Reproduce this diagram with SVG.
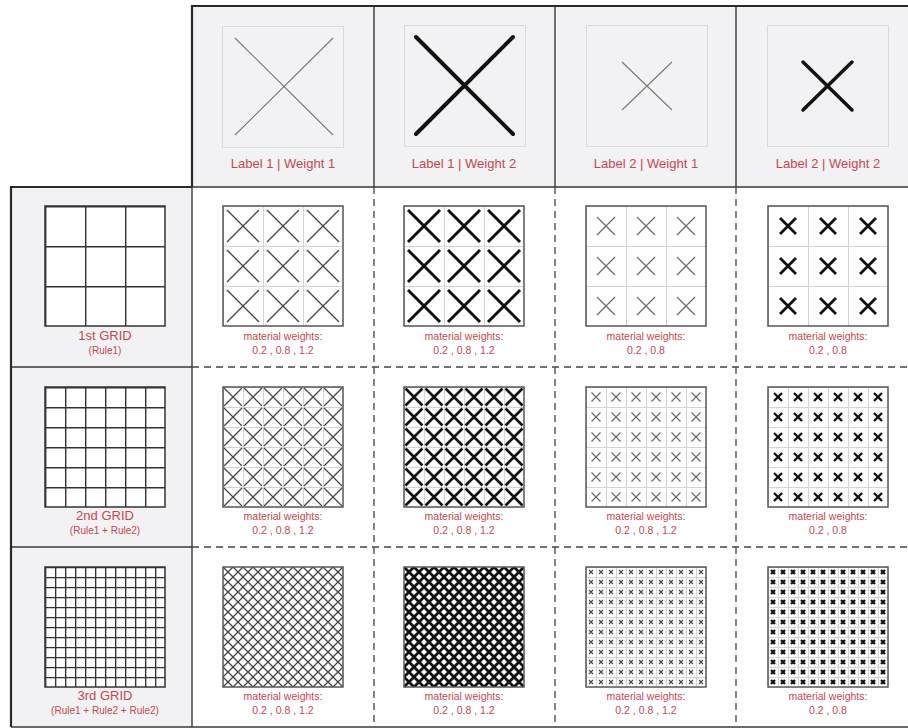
<svg xmlns="http://www.w3.org/2000/svg" width="908" height="728" viewBox="0 0 908 728">
<style>
.bg{fill:#f2f2f4}
.ibox{fill:#f2f2f4;stroke:#d9d9dc;stroke-width:1}
.lbl{font-family:"Liberation Sans",Arial,sans-serif;fill:#c4474f;text-anchor:middle}
.hl{font-size:13px}
.t1{font-size:13px}
.t2{font-size:10px}
.mw{font-size:10.5px}
.solid{stroke:#3a3a3a;stroke-width:1.4;fill:none}
.thick{stroke:#2a2a2a;stroke-width:2.2;fill:none}
.dash{stroke:#444;stroke-width:1.3;fill:none;stroke-dasharray:7 5}
.box{stroke:#555;stroke-width:1.5}
.gbox{stroke:#333;stroke-width:1.5}
.lg{stroke:#d4d4d4;stroke-width:1;fill:none}
.gl{stroke:#333;stroke-width:1.4;fill:none}
.xa{stroke:#444;fill:none}
.xb{stroke:#111;fill:none}
</style>
<defs>
<pattern id="g1" patternUnits="userSpaceOnUse" width="40" height="40"><rect width="40" height="40" fill="#fff"/><path class="gl" d="M0.7 0V40M0 0.7H40"/></pattern>
<pattern id="g2" patternUnits="userSpaceOnUse" width="20" height="20"><rect width="20" height="20" fill="#fff"/><path class="gl" d="M0.7 0V20M0 0.7H20"/></pattern>
<pattern id="g3" patternUnits="userSpaceOnUse" width="10" height="10"><rect width="10" height="10" fill="#fff"/><path class="gl" d="M0.65 0V10M0 0.65H10" stroke-width="1.3"/></pattern>
<pattern id="p1a" patternUnits="userSpaceOnUse" width="40" height="40"><rect width="40" height="40" fill="#fff"/><path class="lg" d="M0.5 0V40M0 0.5H40"/><path class="xa" stroke-width="1.3" d="M4 4L36 36M36 4L4 36"/></pattern>
<pattern id="p1b" patternUnits="userSpaceOnUse" width="40" height="40"><rect width="40" height="40" fill="#fff"/><path class="lg" d="M0.5 0V40M0 0.5H40"/><path class="xb" stroke-width="3" d="M4 4L36 36M36 4L4 36"/></pattern>
<pattern id="p1c" patternUnits="userSpaceOnUse" width="40" height="40"><rect width="40" height="40" fill="#fff"/><path class="lg" d="M0.5 0V40M0 0.5H40"/><path stroke="#666" fill="none" stroke-width="1.1" d="M11 11L29 29M29 11L11 29"/></pattern>
<pattern id="p1d" patternUnits="userSpaceOnUse" width="40" height="40"><rect width="40" height="40" fill="#fff"/><path class="lg" d="M0.5 0V40M0 0.5H40"/><path class="xb" stroke-width="2.8" d="M12 12L28 28M28 12L12 28"/></pattern>
<pattern id="p2a" patternUnits="userSpaceOnUse" width="20" height="20"><rect width="20" height="20" fill="#fff"/><path class="lg" d="M0.5 0V20M0 0.5H20"/><path class="xa" stroke-width="1.2" d="M1 1L19 19M19 1L1 19"/></pattern>
<pattern id="p2b" patternUnits="userSpaceOnUse" width="20" height="20"><rect width="20" height="20" fill="#fff"/><path class="lg" d="M0.5 0V20M0 0.5H20"/><path class="xb" stroke-width="2.6" d="M1.5 1.5L18.5 18.5M18.5 1.5L1.5 18.5"/></pattern>
<pattern id="p2c" patternUnits="userSpaceOnUse" width="20" height="20"><rect width="20" height="20" fill="#fff"/><path class="lg" d="M0.5 0V20M0 0.5H20"/><path stroke="#666" fill="none" stroke-width="1.1" d="M5.5 5.5L14.5 14.5M14.5 5.5L5.5 14.5"/></pattern>
<pattern id="p2d" patternUnits="userSpaceOnUse" width="20" height="20"><rect width="20" height="20" fill="#fff"/><path class="lg" d="M0.5 0V20M0 0.5H20"/><path class="xb" stroke-width="2.4" d="M6 6L14 14M14 6L6 14"/></pattern>
<pattern id="p3a" patternUnits="userSpaceOnUse" width="10" height="10"><rect width="10" height="10" fill="#fff"/><path class="xa" stroke-width="1.3" d="M0 0L10 10M10 0L0 10"/></pattern>
<pattern id="p3b" patternUnits="userSpaceOnUse" width="10" height="10"><rect width="10" height="10" fill="#fff"/><path class="xb" stroke-width="2.8" d="M0 0L10 10M10 0L0 10"/></pattern>
<pattern id="p3c" patternUnits="userSpaceOnUse" width="10" height="10"><rect width="10" height="10" fill="#fff"/><path class="lg" d="M0.5 0V10M0 0.5H10"/><path stroke="#444" fill="none" stroke-width="1.1" d="M3 3L7 7M7 3L3 7"/></pattern>
<pattern id="p3d" patternUnits="userSpaceOnUse" width="10" height="10"><rect width="10" height="10" fill="#fff"/><path class="lg" d="M0.5 0V10M0 0.5H10"/><path class="xb" stroke-width="2.3" d="M3 3L7 7M7 3L3 7"/></pattern>
</defs>

<rect width="908" height="728" fill="#fff"/>
<rect class="bg" x="192" y="6" width="716" height="181"/>
<rect class="bg" x="11" y="187" width="181" height="540"/>

<g id="head-l1w1">
<rect class="ibox" x="222.5" y="26.5" width="121" height="121"/>
<path stroke="#777" stroke-width="1.1" fill="none" d="M235 38L333 135M333 38L235 135"/>
<text class="lbl hl" x="283" y="168">Label 1 | Weight 1</text>
</g>
<g id="head-l1w2">
<rect class="ibox" x="404.5" y="25.5" width="121" height="121"/>
<path stroke="#111" stroke-width="4" stroke-linecap="round" fill="none" d="M416 37L513 134M513 37L416 134"/>
<text class="lbl hl" x="464" y="168">Label 1 | Weight 2</text>
</g>
<g id="head-l2w1">
<rect class="ibox" x="586.5" y="25.5" width="121" height="121"/>
<path stroke="#777" stroke-width="1.1" fill="none" d="M622 62L672 110M672 62L622 110"/>
<text class="lbl hl" x="646" y="168">Label 2 | Weight 1</text>
</g>
<g id="head-l2w2">
<rect class="ibox" x="767.5" y="25.5" width="121" height="121"/>
<path stroke="#111" stroke-width="3.5" stroke-linecap="round" fill="none" d="M803 62L852 110M852 62L803 110"/>
<text class="lbl hl" x="828" y="168">Label 2 | Weight 2</text>
</g>

<g id="grid1" transform="translate(45,206)">
<rect class="gbox" width="120" height="120" fill="url(#g1)"/>
<text class="lbl t1" x="60" y="134">1st GRID</text>
<text class="lbl t2" x="60" y="147.5">(Rule1)</text>
</g>
<g id="grid2" transform="translate(45,387)">
<rect class="gbox" width="120" height="120" fill="url(#g2)"/>
<text class="lbl t1" x="60" y="133">2nd GRID</text>
<text class="lbl t2" x="60" y="146.5">(Rule1 + Rule2)</text>
</g>
<g id="grid3" transform="translate(45,567)">
<rect class="gbox" width="120" height="120" fill="url(#g3)"/>
<text class="lbl t1" x="60" y="133">3rd GRID</text>
<text class="lbl t2" x="60" y="146.5">(Rule1 + Rule2 + Rule2)</text>
</g>

<g id="r1c1" transform="translate(223,206)"><rect class="box" width="120" height="120" fill="url(#p1a)"/><text class="lbl mw" x="60" y="133.5">material weights:</text><text class="lbl mw" x="60" y="147.5">0.2 , 0.8 , 1.2</text></g>
<g id="r1c2" transform="translate(404,206)"><rect class="box" width="120" height="120" fill="url(#p1b)"/><text class="lbl mw" x="60" y="133.5">material weights:</text><text class="lbl mw" x="60" y="147.5">0.2 , 0.8 , 1.2</text></g>
<g id="r1c3" transform="translate(586,206)"><rect class="box" width="120" height="120" fill="url(#p1c)"/><text class="lbl mw" x="60" y="133.5">material weights:</text><text class="lbl mw" x="60" y="147.5">0.2 , 0.8</text></g>
<g id="r1c4" transform="translate(768,206)"><rect class="box" width="120" height="120" fill="url(#p1d)"/><text class="lbl mw" x="60" y="133.5">material weights:</text><text class="lbl mw" x="60" y="147.5">0.2 , 0.8</text></g>

<g id="r2c1" transform="translate(223,387)"><rect class="box" width="120" height="120" fill="url(#p2a)"/><text class="lbl mw" x="60" y="132.5">material weights:</text><text class="lbl mw" x="60" y="146.5">0.2 , 0.8 , 1.2</text></g>
<g id="r2c2" transform="translate(404,387)"><rect class="box" width="120" height="120" fill="url(#p2b)"/><text class="lbl mw" x="60" y="132.5">material weights:</text><text class="lbl mw" x="60" y="146.5">0.2 , 0.8 , 1.2</text></g>
<g id="r2c3" transform="translate(586,387)"><rect class="box" width="120" height="120" fill="url(#p2c)"/><text class="lbl mw" x="60" y="132.5">material weights:</text><text class="lbl mw" x="60" y="146.5">0.2 , 0.8 , 1.2</text></g>
<g id="r2c4" transform="translate(768,387)"><rect class="box" width="120" height="120" fill="url(#p2d)"/><text class="lbl mw" x="60" y="132.5">material weights:</text><text class="lbl mw" x="60" y="146.5">0.2 , 0.8</text></g>

<g id="r3c1" transform="translate(223,567)"><rect class="box" width="120" height="120" fill="url(#p3a)"/><text class="lbl mw" x="60" y="132.5">material weights:</text><text class="lbl mw" x="60" y="146.5">0.2 , 0.8 , 1.2</text></g>
<g id="r3c2" transform="translate(404,567)"><rect class="box" width="120" height="120" fill="url(#p3b)"/><text class="lbl mw" x="60" y="132.5">material weights:</text><text class="lbl mw" x="60" y="146.5">0.2 , 0.8 , 1.2</text></g>
<g id="r3c3" transform="translate(586,567)"><rect class="box" width="120" height="120" fill="url(#p3c)"/><text class="lbl mw" x="60" y="132.5">material weights:</text><text class="lbl mw" x="60" y="146.5">0.2 , 0.8 , 1.2</text></g>
<g id="r3c4" transform="translate(768,567)"><rect class="box" width="120" height="120" fill="url(#p3d)"/><text class="lbl mw" x="60" y="132.5">material weights:</text><text class="lbl mw" x="60" y="146.5">0.2 , 0.8</text></g>

<g id="lines">
<path class="dash" d="M192 367H908M192 547H908M374 187V727M555 187V727M736 187V727"/>
<path class="solid" d="M374 6V187M555 6V187M736 6V187M192 187H908M192 187V727M11 367H192M11 547H192M11 727H908"/>
<path class="thick" d="M192 187V6H908M11 727V187H192"/>
</g>
</svg>
